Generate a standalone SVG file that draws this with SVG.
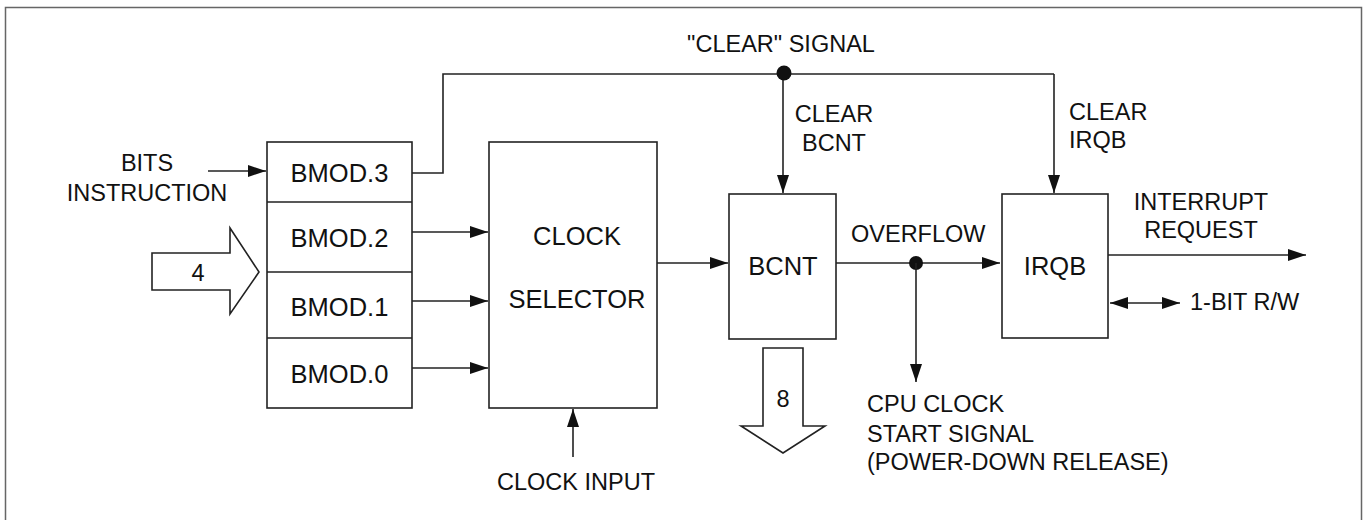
<svg xmlns="http://www.w3.org/2000/svg" width="1367" height="520" viewBox="0 0 1367 520">
<defs>
<marker id="ah" markerWidth="18" markerHeight="12" refX="18" refY="6" orient="auto-start-reverse" markerUnits="userSpaceOnUse">
<path d="M0,0 L18,6 L0,12 z" fill="#111"/>
</marker>
</defs>
<style>
.box{fill:#fff;stroke:#222;stroke-width:1.6}
.ln{fill:none;stroke:#222;stroke-width:1.6}
.arw{fill:none;stroke:#222;stroke-width:1.6;marker-end:url(#ah)}
.big{fill:#fff;stroke:#222;stroke-width:1.6;stroke-linejoin:miter}
.bt{font-family:"Liberation Sans",Arial,sans-serif;font-size:25.5px;fill:#111;text-anchor:middle}
.lb{font-family:"Liberation Sans",Arial,sans-serif;font-size:23.5px;fill:#111}
.c{text-anchor:middle}
</style>
<rect x="0" y="0" width="1367" height="520" fill="#fff"/>
<path d="M5.5,530 V7.5 H1361.5 V530" fill="none" stroke="#666" stroke-width="1.5"/>

<g id="connectors">
<path class="ln" d="M412,173 H443 V74 H1054"/>
<path class="arw" d="M783,74 V193"/>
<path class="arw" d="M1054,74 V193"/>
<circle cx="784" cy="73" r="7.5" fill="#111"/>
<path class="arw" d="M208,171 H266"/>
<path class="arw" d="M412,232 H488"/>
<path class="arw" d="M412,301 H488"/>
<path class="arw" d="M412,368 H488"/>
<path class="arw" d="M573,457 V409"/>
<path class="arw" d="M657,263 H728"/>
<path class="arw" d="M836,263 H1000"/>
<circle cx="916" cy="263" r="7" fill="#111"/>
<path class="arw" d="M916,263 V382"/>
<path class="arw" d="M1108,255 H1306"/>
<path class="ln" d="M1110,303 H1180" marker-start="url(#ah)" marker-end="url(#ah)"/>
<path class="big" d="M152,253 H230 V228 L259,272 L230,314 V290 H152 Z"/>
<path class="big" d="M763,348 H803 V426 H825 L783,453 L741,426 H763 Z"/>
</g>

<g id="bmod">
<rect class="box" x="267" y="142" width="145" height="266"/>
<path class="ln" d="M267,202 H412 M267,272 H412 M267,338 H412"/>
<text class="bt" x="339.5" y="182">BMOD.3</text>
<text class="bt" x="339.5" y="247">BMOD.2</text>
<text class="bt" x="339.5" y="316">BMOD.1</text>
<text class="bt" x="339.5" y="383">BMOD.0</text>
</g>

<g id="selector">
<rect class="box" x="489" y="142" width="168" height="266"/>
<text class="bt" x="577" y="245">CLOCK</text>
<text class="bt" x="577" y="308">SELECTOR</text>
</g>

<g id="bcnt">
<rect class="box" x="729" y="194" width="107" height="145"/>
<text class="bt" x="783" y="275">BCNT</text>
</g>

<g id="irqb">
<rect class="box" x="1002" y="194" width="106" height="144"/>
<text class="bt" x="1055" y="275">IRQB</text>
</g>

<g id="labels">
<text class="lb c" x="147" y="171">BITS</text>
<text class="lb c" x="147" y="201">INSTRUCTION</text>
<text class="lb c" x="198" y="281">4</text>
<text class="lb c" x="781" y="52">"CLEAR" SIGNAL</text>
<text class="lb c" x="834" y="122">CLEAR</text>
<text class="lb c" x="834" y="151">BCNT</text>
<text class="lb" x="1069" y="120">CLEAR</text>
<text class="lb" x="1069" y="148">IRQB</text>
<text class="lb" x="851" y="242">OVERFLOW</text>
<text class="lb c" x="1201" y="210">INTERRUPT</text>
<text class="lb c" x="1201" y="238">REQUEST</text>
<text class="lb" x="1190" y="310">1-BIT R/W</text>
<text class="lb c" x="783" y="407">8</text>
<text class="lb" x="867" y="412">CPU CLOCK</text>
<text class="lb" x="867" y="442">START SIGNAL</text>
<text class="lb" x="867" y="470">(POWER-DOWN RELEASE)</text>
<text class="lb c" x="576" y="490">CLOCK INPUT</text>
</g>
</svg>
